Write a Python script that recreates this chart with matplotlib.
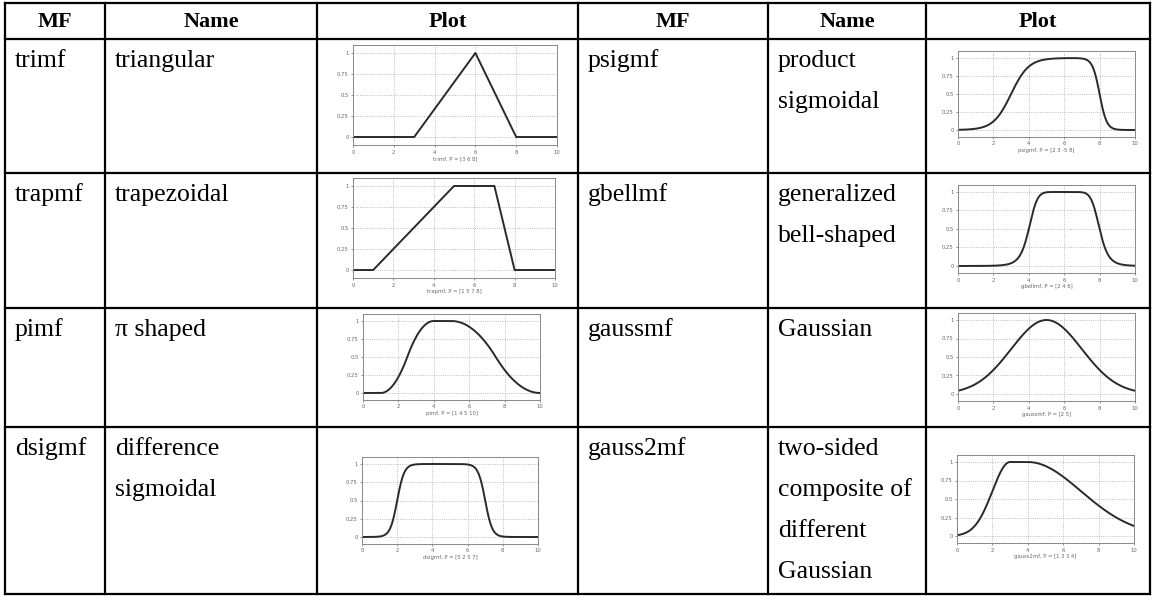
# Tabela de funções de pertinência (MF) com miniaturas dos gráficos
import numpy as np
import matplotlib.pyplot as plt

W, H = 1155, 596

# Textos da tabela
headers = ["MF", "Name", "Plot", "MF", "Name", "Plot"]
mf_left = ["trimf", "trapmf", "pimf", "dsigmf"]
names_left = [["triangular"], ["trapezoidal"], ["π shaped"], ["difference", "sigmoidal"]]
mf_right = ["psigmf", "gbellmf", "gaussmf", "gauss2mf"]
names_right = [["product", "sigmoidal"], ["generalized", "bell-shaped"], ["Gaussian"],
               ["two-sided", "composite of", "different", "Gaussian"]]

p_trimf = [3, 6, 8]
p_trapmf = [1, 5, 7, 8]
p_pimf = [1, 4, 5, 10]
p_dsigmf = [5, 2, 5, 7]
p_psigmf = [2, 3, -5, 8]
p_gbellmf = [2, 4, 6]
p_gaussmf = [2, 5]
p_gauss2mf = [1, 3, 3, 4]

x_ticks = [0, 2, 4, 6, 8, 10]
y_ticks = [0, 0.25, 0.5, 0.75, 1]
y_tick_labels = ["0", "0.25", "0.5", "0.75", "1"]


def sig(x, a, c):
    return 1 / (1 + np.exp(-a * (x - c)))


def trimf(x, p):
    a, b, c = p
    return np.maximum(np.minimum((x - a) / (b - a), (c - x) / (c - b)), 0)


def trapmf(x, p):
    a, b, c, d = p
    return np.maximum(np.minimum(np.minimum((x - a) / (b - a), 1), (d - x) / (d - c)), 0)


def smf(x, a, b):
    m = (a + b) / 2
    y = np.where(x <= a, 0.0, 1.0)
    y = np.where((x > a) & (x <= m), 2 * ((x - a) / (b - a)) ** 2, y)
    y = np.where((x > m) & (x < b), 1 - 2 * ((x - b) / (b - a)) ** 2, y)
    return y


def pimf(x, p):
    a, b, c, d = p
    return smf(x, a, b) * (1 - smf(x, c, d))


def dsigmf(x, p):
    return np.abs(sig(x, p[0], p[1]) - sig(x, p[2], p[3]))


def psigmf(x, p):
    return sig(x, p[0], p[1]) * sig(x, p[2], p[3])


def gbellmf(x, p):
    a, b, c = p
    return 1 / (1 + np.abs((x - c) / a) ** (2 * b))


def gaussmf(x, p):
    s, c = p
    return np.exp(-(x - c) ** 2 / (2 * s ** 2))


def gauss2mf(x, p):
    s1, c1, s2, c2 = p
    y = np.ones_like(x)
    y = np.where(x < c1, np.exp(-(x - c1) ** 2 / (2 * s1 ** 2)), y)
    y = np.where(x > c2, np.exp(-(x - c2) ** 2 / (2 * s2 ** 2)), y)
    return y


# (função, parâmetros, rótulo, caixa do eixo em pixels: x0, x1, y_topo, y_base)
plots = [
    (trimf, p_trimf, "trimf, P = [3 6 8]", (353, 557, 44.6, 145.4)),
    (trapmf, p_trapmf, "trapmf, P = [1 5 7 8]", (353, 555, 177.6, 278.4)),
    (pimf, p_pimf, "pimf, P = [1 4 5 10]", (363, 540, 313.8, 400.2)),
    (dsigmf, p_dsigmf, "dsigmf, P = [5 2 5 7]", (362, 538, 456.7, 544.3)),
    (psigmf, p_psigmf, "psigmf, P = [2 3 -5 8]", (958, 1135, 50.8, 137.2)),
    (gbellmf, p_gbellmf, "gbellmf, P = [2 4 6]", (958, 1135, 184.6, 273.4)),
    (gaussmf, p_gaussmf, "gaussmf, P = [2 5]", (958, 1135, 312.6, 401.4)),
    (gauss2mf, p_gauss2mf, "gauss2mf, P = [1 3 3 4]", (957, 1134, 454.6, 543.4)),
]

cols = [5, 105, 317, 578, 768, 926, 1150]
rows = [3, 39, 173, 308, 427, 594]

serif = ["Liberation Serif", "DejaVu Serif"]

fig = plt.figure(figsize=(W / 100, H / 100), dpi=100)
ax = fig.add_axes([0, 0, 1, 1])
ax.set_xlim(0, W)
ax.set_ylim(H, 0)
ax.axis("off")

# linhas da tabela
for xc in cols:
    ax.plot([xc, xc], [rows[0], rows[-1]], color="black", lw=1.6, solid_capstyle="projecting")
for yr in rows:
    ax.plot([cols[0], cols[-1]], [yr, yr], color="black", lw=1.6, solid_capstyle="projecting")

# cabeçalho
for i, h in enumerate(headers):
    ax.text((cols[i] + cols[i + 1]) / 2, (rows[0] + rows[1]) / 2 + 1, h, ha="center", va="center",
            fontsize=16, fontweight="bold", family=serif)

# textos das linhas
for r in range(4):
    base = rows[r + 1] + 28
    ax.text(cols[0] + 10, base, mf_left[r], fontsize=18.5, family=serif, va="baseline")
    ax.text(cols[3] + 10, base, mf_right[r], fontsize=18.5, family=serif, va="baseline")
    for k, t in enumerate(names_left[r]):
        ax.text(cols[1] + 10, base + 41 * k, t, fontsize=18.5, family=serif, va="baseline")
    for k, t in enumerate(names_right[r]):
        ax.text(cols[4] + 10, base + 41 * k, t, fontsize=18.5, family=serif, va="baseline")

# miniaturas
x = np.linspace(0, 10, 401)
for func, p, label, (x0, x1, yt, yb) in plots:
    a = fig.add_axes([x0 / W, 1 - yb / H, (x1 - x0) / W, (yb - yt) / H])
    a.plot(x, func(x, p), color="#2a2a2a", lw=1.4)
    a.set_xlim(0, 10)
    a.set_ylim(-0.1, 1.1)
    a.set_xticks(x_ticks)
    a.set_yticks(y_ticks)
    a.set_yticklabels(y_tick_labels)
    a.grid(True, linestyle=":", color="#aaaaaa", lw=0.6)
    a.tick_params(labelsize=3.8, length=1.5, width=0.5, pad=1.5, colors="#666666")
    for s in a.spines.values():
        s.set_color("#888888")
        s.set_linewidth(0.7)
    a.set_xlabel(label, fontsize=3.8, color="#666666", labelpad=1)

fig.savefig("out.png", dpi=100)
